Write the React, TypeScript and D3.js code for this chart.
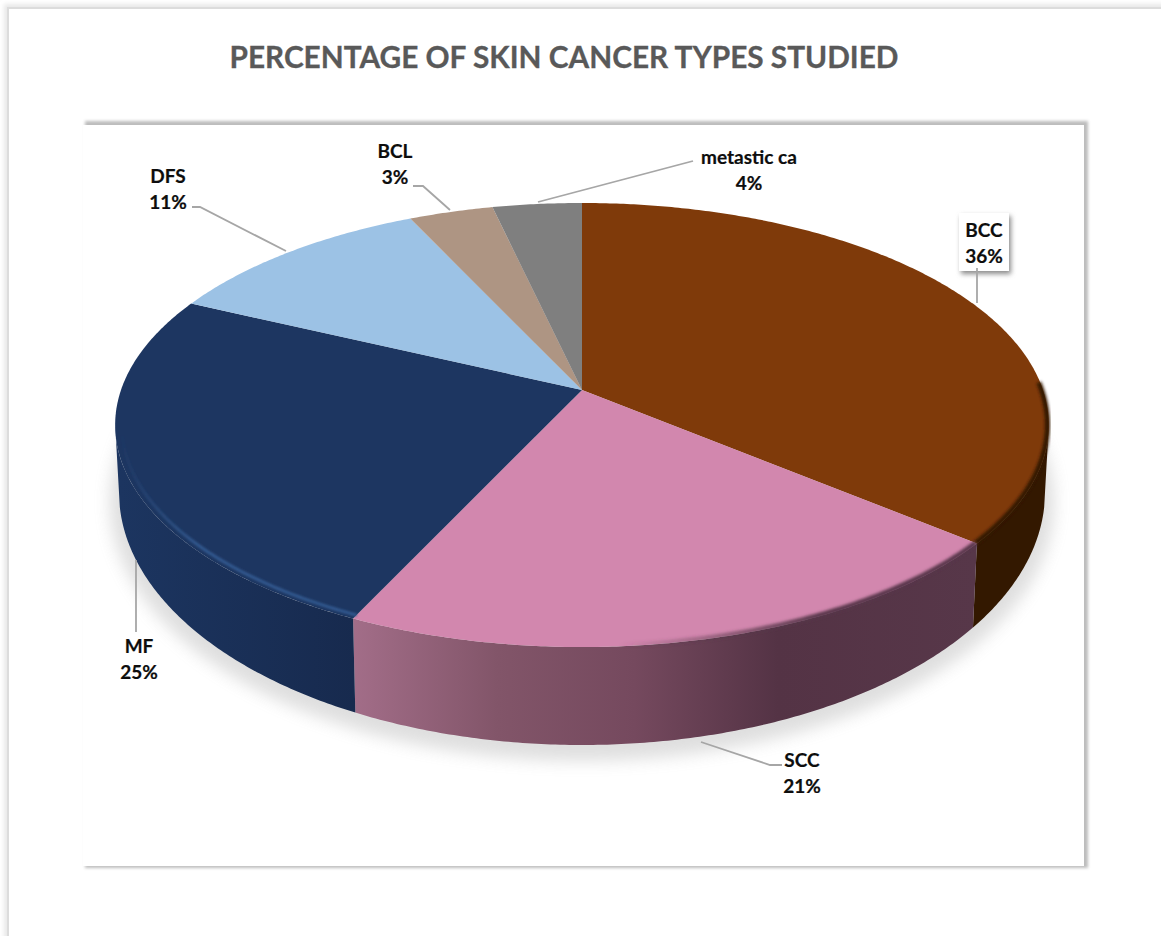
import React from "react";
import * as d3 from "d3";

// ---- data ----
const categories = ["BCC", "SCC", "MF", "DFS", "BCL", "metastic ca"];
const values = [36, 21, 25, 11, 3.4, 3.6];
const valueLabels = ["36%", "21%", "25%", "11%", "3%", "4%"];
const sliceColors = ["#7f3a0a", "#d287ae", "#1d3661", "#9cc2e5", "#ae9583", "#7f7f7f"];
const titleText = "PERCENTAGE OF SKIN CANCER TYPES STUDIED";

// ---- label layout ----
const labelX = [984, 802, 139, 168, 395, 749];
const labelY = [237, 767, 653, 183, 158, 164];
const leaders: [number, number][][] = [
  [[977, 268], [977, 303]],
  [[701, 742], [770, 765], [782, 765]],
  [[136, 560], [136, 632]],
  [[192, 207], [200, 207], [286, 251]],
  [[413, 186], [423, 186], [450, 210]],
  [[538, 202], [693, 161]],
];

// ---- projection of the pie disc: a circle seen in perspective ----
const cx = 582, apexY = 390, A = 461, a = 155, c = -0.1577;
const lowCy = 492, lowRx = 463, lowRy = 253;
const project = (theta: number, r = 1): [number, number] => {
  const u = r * Math.sin(theta), v = -r * Math.cos(theta);
  const w = 1 + c * v;
  return [cx + (A * u) / w, (a * v + apexY) / w];
};
const lower = ([x]: [number, number]): [number, number] => {
  const nx = Math.max(-1, Math.min(1, ((x - cx) * 0.99) / lowRx));
  return [cx + nx * lowRx, lowCy + lowRy * Math.sqrt(1 - nx * nx)];
};
const rad = (deg: number) => (deg * Math.PI) / 180;
const arcPoints = (t0: number, t1: number, r = 1) => {
  const n = Math.max(2, Math.ceil(Math.abs(t1 - t0) / rad(0.5)));
  return d3.range(n + 1).map((i) => project(t0 + ((t1 - t0) * i) / n, r));
};
const line = d3.line<[number, number]>();

const arcs = d3.pie<number>().sort(null)(values);

const wallPath = (t0: number, t1: number) => {
  const top = arcPoints(t0, t1);
  return line([...top, ...top.slice().reverse().map(lower)]) + "Z";
};

const wallFill = ["#331800", "url(#wallPink)", "url(#wallNavy)"];
const wallEnd = [arcs[0].endAngle, arcs[1].endAngle, rad(261)];
const wallStart = [rad(99), arcs[1].startAngle, arcs[2].startAngle];

export default function App() {
  return (
    <svg
      width={1161}
      height={936}
      style={{ position: "absolute", left: 0, top: 0, background: "#fff" }}
      fontFamily="Lato, 'Open Sans', sans-serif"
    >
      <defs>
        <filter id="b05" x="-5%" y="-5%" width="110%" height="110%"><feGaussianBlur stdDeviation="1.2" /></filter>
        <filter id="b1" x="-5%" y="-5%" width="110%" height="110%"><feGaussianBlur stdDeviation="1.5" /></filter>
        <filter id="b2" x="-10%" y="-10%" width="120%" height="120%"><feGaussianBlur stdDeviation="2.2" /></filter>
        <filter id="b6" x="-10%" y="-10%" width="120%" height="120%"><feGaussianBlur stdDeviation="8" /></filter>
        <filter id="tb" x="-30%" y="-30%" width="160%" height="160%"><feGaussianBlur stdDeviation="2.5" /></filter>
        <linearGradient id="wallPink" gradientUnits="userSpaceOnUse" x1={355} x2={977} y1={0} y2={0}>
          <stop offset="0" stopColor="#a26d88" />
          <stop offset="0.23" stopColor="#825569" />
          <stop offset="0.45" stopColor="#75495e" />
          <stop offset="0.68" stopColor="#543345" />
          <stop offset="1" stopColor="#573749" />
        </linearGradient>
        <linearGradient id="wallNavy" gradientUnits="userSpaceOnUse" x1={120} x2={355} y1={0} y2={0}>
          <stop offset="0" stopColor="#1c3560" />
          <stop offset="1" stopColor="#172a4e" />
        </linearGradient>
        <linearGradient id="hiPink" gradientUnits="userSpaceOnUse" x1={355} x2={700} y1={0} y2={0}>
          <stop offset="0" stopColor="#f7a8d2" />
          <stop offset="0.6" stopColor="#ea9ac5" />
          <stop offset="1" stopColor="#d287ae" stopOpacity="0" />
        </linearGradient>
        <linearGradient id="hiNavy" gradientUnits="userSpaceOnUse" x1={118} x2={200} y1={0} y2={0}>
          <stop offset="0" stopColor="#33598f" stopOpacity="0" />
          <stop offset="1" stopColor="#33598f" />
        </linearGradient>
        <linearGradient id="rimPink" gradientUnits="userSpaceOnUse" x1={620} x2={820} y1={0} y2={0}>
          <stop offset="0" stopColor="#563649" stopOpacity="0" />
          <stop offset="1" stopColor="#563649" />
        </linearGradient>
      </defs>

      {/* page frame */}
      <rect x={4} y={4} width={1300} height={1100} fill="#e8e8e8" filter="url(#b2)" />
      <rect x={8} y={8} width={1300} height={1100} fill="#fff" stroke="#dcdcdc" strokeWidth={2} />

      <text
        x={564}
        y={68}
        textAnchor="middle"
        fontSize={29.8}
        fontWeight={700}
        fill="#595959"
        stroke="#595959"
        strokeWidth={0.3}
      >
        {titleText}
      </text>

      {/* chart panel */}
      <rect x={85} y={121} width={1003} height={747} fill="#bdbdbd" filter="url(#b1)" />
      <rect x={83} y={125} width={1001} height={741} fill="#fff" />

      {/* pie shadow */}
      <ellipse cx={cx} cy={lowCy + 10} rx={lowRx * 1.02} ry={lowRy + 6} fill="#8c8c8c" opacity={0.28} filter="url(#b6)" />

      {/* side walls */}
      {wallFill.map((f, i) => (
        <path key={i} d={wallPath(wallStart[i], wallEnd[i])} fill={f} />
      ))}

      {/* top slices */}
      {arcs.map((s, i) => (
        <path
          key={categories[i]}
          d={line([[cx, apexY], ...arcPoints(s.startAngle, s.endAngle)]) + "Z"}
          fill={sliceColors[i]}
        />
      ))}

      {/* bevel along the front rim */}
      <path
        d={line(arcPoints(arcs[2].startAngle, rad(258), 0.987)) ?? ""}
        fill="none"
        stroke="url(#hiNavy)"
        strokeWidth={3}
        filter="url(#b05)"
      />
      <path
        d={line(arcPoints(arcs[1].startAngle - rad(0.3), rad(168), 0.99)) ?? ""}
        fill="none"
        stroke="url(#hiPink)"
        strokeWidth={4}
        filter="url(#b05)"
      />
      <path
        d={line(arcPoints(rad(88), arcs[0].endAngle, 0.997)) ?? ""}
        fill="none"
        stroke="#331800"
        strokeWidth={5}
        filter="url(#b1)"
      />
      <path
        d={line(arcPoints(arcs[0].endAngle, rad(180), 0.997)) ?? ""}
        fill="none"
        stroke="url(#rimPink)"
        strokeWidth={5}
        filter="url(#b1)"
      />

      {/* BCC label box */}
      <rect x={961} y={216} width={50} height={58} fill="#8a8a8a" filter="url(#tb)" />
      <rect x={959} y={213} width={50} height={58} fill="#fff" />

      {/* leader lines */}
      {leaders.map((pts, i) => (
        <path key={i} d={line(pts) ?? ""} fill="none" stroke="#a6a6a6" strokeWidth={1.8} />
      ))}

      {/* labels */}
      {categories.map((name, i) => (
        <text
          key={name}
          textAnchor="middle"
          fontSize={19}
          fontWeight={700}
          fill="#0d0d0d"
          stroke="#0d0d0d"
          strokeWidth={0.2}
        >
          <tspan x={labelX[i]} y={labelY[i]}>{name}</tspan>
          <tspan x={labelX[i]} y={labelY[i] + 26}>{valueLabels[i]}</tspan>
        </text>
      ))}
    </svg>
  );
}
